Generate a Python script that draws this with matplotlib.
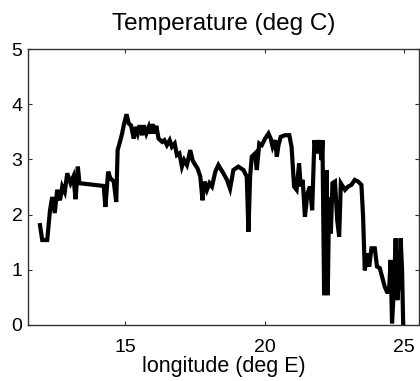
import matplotlib
matplotlib.use("Agg")
import matplotlib.pyplot as plt

lon = [11.93, 12.01, 12.19, 12.29, 12.37, 12.46, 12.55, 12.65, 12.73, 12.82, 12.91, 13.03, 13.13, 13.21,
       13.29, 13.35, 14.22, 14.28, 14.38,
       14.46, 14.58, 14.67, 14.72, 14.82, 14.88, 14.94, 15.04, 15.12, 15.20, 15.30, 15.36, 15.44, 15.51,
       15.60, 15.66, 15.75, 15.84, 15.90, 15.98, 16.05, 16.11, 16.19, 16.32, 16.40, 16.49, 16.59, 16.67,
       16.77, 16.85, 16.94, 17.03, 17.11, 17.21, 17.33, 17.41, 17.51, 17.59, 17.69, 17.77, 17.84, 17.93,
       18.02, 18.11, 18.23, 18.34,
       18.41, 18.52, 18.65, 18.76, 18.88, 19.06, 19.24, 19.36, 19.42, 19.48, 19.54, 19.66, 19.72, 19.81,
       19.90, 20.02, 20.14, 20.22, 20.29, 20.38, 20.44, 20.50, 20.58, 20.73, 20.89, 20.97,
       21.06, 21.15, 21.24, 21.30, 21.37,
       21.45, 21.54, 21.63, 21.71, 21.79, 21.87, 21.96, 22.05, 22.08, 22.14, 22.23, 22.27, 22.32, 22.38,
       22.44, 22.53, 22.61, 22.68, 22.74, 22.89, 23.00, 23.12, 23.24, 23.36, 23.48, 23.54, 23.60, 23.69,
       23.76, 23.84, 23.96, 24.04, 24.14, 24.22, 24.32, 24.40, 24.47, 24.53, 24.58, 24.65, 24.71, 24.77,
       24.83, 24.89, 24.94, 24.98]
temp = [1.81, 1.54, 1.54, 2.08, 2.32, 2.03, 2.45, 2.26, 2.51, 2.41, 2.75, 2.57, 2.69, 2.28,
        2.87, 2.57, 2.52, 2.14, 2.78,
        2.66, 2.60, 2.23, 3.17, 3.35, 3.47, 3.62, 3.82, 3.65, 3.62, 3.38, 3.59, 3.47, 3.62,
        3.44, 3.62, 3.47, 3.59, 3.47, 3.64, 3.47, 3.61, 3.38, 3.32, 3.35, 3.26, 3.35, 3.23,
        3.29, 3.08, 3.11, 2.87, 2.99, 2.90, 3.17, 2.99, 2.90, 2.84, 2.69, 2.26, 2.60, 2.45,
        2.57, 2.51, 2.78, 2.90,
        2.84, 2.75, 2.63, 2.47, 2.81, 2.87, 2.81, 2.69, 1.69, 2.69, 3.05, 3.11, 2.81, 3.29,
        3.26, 3.38, 3.47, 3.38, 3.23, 3.35, 3.05, 3.26, 3.41, 3.44, 3.44, 3.23,
        2.51, 2.45, 2.93, 2.51, 2.63,
        1.96, 2.38, 2.51, 2.08, 3.35, 3.11, 3.35, 2.99, 3.35, 0.54, 2.81, 0.54, 2.32, 1.66,
        2.57, 2.60, 1.90, 1.60, 2.57, 2.45, 2.51, 2.54, 2.63, 2.60, 2.54, 1.96, 0.99, 1.30,
        1.06, 1.39, 1.39, 1.06, 1.03, 0.88, 0.69, 0.60, 0.60, 1.18, 0.03, 0.69, 1.57, 0.45,
        0.81, 1.57, 1.00, 0.03]
xticks = [15, 20, 25]
yticks = [0, 1, 2, 3, 4, 5]

plt.rcParams['font.family'] = ['Liberation Sans', 'DejaVu Sans']
fig = plt.figure(figsize=(4.2, 3.81), dpi=100)
ax = fig.add_axes([0.0667, 0.147, 0.931, 0.724])
ax.plot(lon, temp, color='black', lw=3.0, solid_joinstyle='miter')
ax.set_xlim(11.5, 25.55)
ax.set_ylim(0, 5)
ax.set_xticks(xticks)
ax.set_yticks(yticks)
ax.tick_params(direction='in', length=3, width=0.8, top=True, right=True, labelsize=14,
               colors='#333333', labelcolor='black')
ax.tick_params(axis='x', pad=10)
ax.tick_params(axis='y', pad=4)
for s in ax.spines.values():
    s.set_color('#333333')
    s.set_linewidth(1.0)
ax.set_title('Temperature (deg C)', fontsize=17.5, pad=14)
ax.set_xlabel('longitude (deg E)', fontsize=15.5, labelpad=0)
fig.savefig('out.png', dpi=100)
